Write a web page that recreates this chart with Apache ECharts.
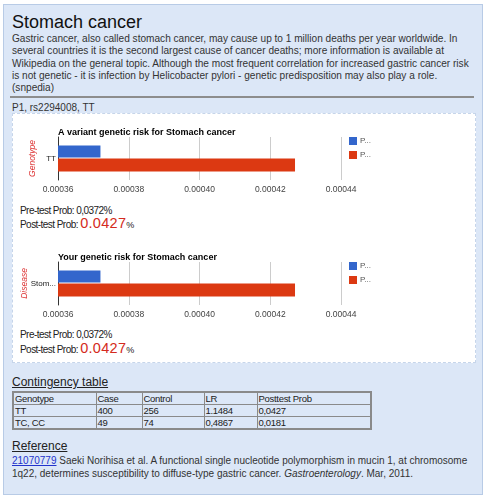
<!DOCTYPE html>
<html>
<head>
<meta charset="utf-8">
<script src="https://cdn.jsdelivr.net/npm/echarts@6/dist/echarts.min.js"></script>
<style>
  html, body { margin:0; padding:0; background:#fff; }
  body { width:487px; height:500px; position:relative; overflow:hidden; font-family:"Liberation Sans", Arial, sans-serif; color:#222; }
  .abs { position:absolute; white-space:nowrap; }
  #outer { left:3px; top:4px; width:478px; height:489px; background:#dce7f7; border:1px solid #b8cbe6; }
  #title { left:12px; top:9px; font-size:18px; line-height:26px; color:#111; }
  #para { left:12px; top:33px; font-size:10.1px; line-height:12.3px; color:#333; }
  #hr { left:10px; top:96px; width:464px; height:2px; background:#8d8d8d; }
  #snp { left:12px; top:102px; font-size:10px; line-height:12px; color:#333; }
  #box { left:12px; top:113px; width:462px; height:248px; background:#fff; border:1px dashed #c6d5ea; }
  .prob { left:20px; font-size:10px; line-height:12px; color:#222; letter-spacing:-0.55px; }
  .big { color:#d42a20; font-size:14.5px; letter-spacing:0.3px; }
  .pct { font-size:9px; }
  .h2 { left:12px; font-size:12px; line-height:14px; text-decoration:underline; color:#222; }
  table { position:absolute; left:12px; top:391px; border-collapse:collapse; table-layout:fixed; width:358px; font-size:9.5px; color:#222; border:2px solid #8a8a8a; letter-spacing:-0.3px; }
  td { border:1px solid #8a8a8a; padding:0 1px; height:11px; line-height:11px; overflow:hidden; white-space:nowrap; }
  #ref { left:12px; top:454px; font-size:10px; line-height:13px; color:#333; }
  #ref a { color:#2233cc; text-decoration:underline; }
  .chart { position:absolute; left:0; width:487px; }
</style>
</head>
<body>
<div id="outer" class="abs"></div>
<div id="title" class="abs">Stomach cancer</div>
<div id="para" class="abs">Gastric cancer, also called stomach cancer, may cause up to 1 million deaths per year worldwide. In<br>several countries it is the second largest cause of cancer deaths; more information is available at<br>Wikipedia on the general topic. Although the most frequent correlation for increased gastric cancer risk<br>is not genetic - it is infection by Helicobacter pylori - genetic predisposition may also play a role.<br>(snpedia)</div>
<div id="hr" class="abs"></div>
<div id="snp" class="abs">P1, rs2294008, TT</div>
<div id="box" class="abs"></div>
<div id="c1" class="chart" style="top:118px;height:80px;"></div>
<div class="abs prob" style="top:205px;">Pre-test Prob: 0,0372%</div>
<div class="abs prob" style="top:215px;line-height:17px;">Post-test Prob: <span class="big">0.0427</span><span class="pct">%</span></div>
<div id="c2" class="chart" style="top:243px;height:80px;"></div>
<div class="abs prob" style="top:329px;">Pre-test Prob: 0,0372%</div>
<div class="abs prob" style="top:340px;line-height:17px;">Post-test Prob: <span class="big">0.0427</span><span class="pct">%</span></div>
<div class="abs h2" style="top:375px;">Contingency table</div>
<table id="tbl"><colgroup id="cols"></colgroup></table>
<div class="abs h2" style="top:439px;">Reference</div>
<div id="ref" class="abs"><a>21070779</a> Saeki Norihisa et al. A functional single nucleotide polymorphism in mucin 1, at chromosome<br>1q22, determines susceptibility to diffuse-type gastric cancer. <i>Gastroenterology</i>. Mar, 2011.</div>

<script>
// ---- data ----
const seriesNames = ['Pre-test Prob', 'Post-test Prob'];
const categories1 = ['TT'];
const categories2 = ['Stomach cancer'];
const preTest = [0.000372];
const postTest = [0.000427];
const xMin = 0.00036;
const xMax = 0.00044;
const xInterval = 0.00002;

const tableHeader = ['Genotype', 'Case', 'Control', 'LR', 'Posttest Prob'];
const tableGenotype = ['TT', 'TC, CC'];
const tableCase = ['400', '49'];
const tableControl = ['256', '74'];
const tableLR = ['1.1484', '0,4867'];
const tablePost = ['0,0427', '0,0181'];

// ---- table ----
const colW = [83, 46, 62, 53, 114];
const tbl = document.getElementById('tbl');
const cols = document.getElementById('cols');
colW.forEach(w => { const c = document.createElement('col'); c.style.width = w + 'px'; cols.appendChild(c); });
function addRow(cells) {
  const tr = document.createElement('tr');
  cells.forEach(c => {
    const td = document.createElement('td');
    td.textContent = c;
    tr.appendChild(td);
  });
  tbl.appendChild(tr);
}
addRow(tableHeader);
tableGenotype.forEach((g, i) => addRow([g, tableCase[i], tableControl[i], tableLR[i], tablePost[i]]));

// ---- charts ----
function makeChart(id, titleText, cats, axisName, nameGap) {
  const chart = echarts.init(document.getElementById(id), null, {renderer: 'canvas'});
  chart.setOption({
    animation: false,
    textStyle: { fontFamily: 'Liberation Sans, Arial, sans-serif' },
    title: {
      text: titleText, left: 53, top: 5,
      textStyle: { fontSize: 9, fontWeight: 'bold', color: '#000' }
    },
    legend: {
      orient: 'vertical', left: 344, top: 14,
      itemWidth: 8, itemHeight: 8, itemGap: 6,
      icon: 'rect',
      formatter: name => name.charAt(0) + '...',
      textStyle: { fontSize: 8, color: '#555', padding: [0, 0, 0, -2] },
      data: seriesNames
    },
    grid: { left: 58, right: 146, top: 19, height: 43, containLabel: false },
    xAxis: {
      type: 'value', min: xMin, max: xMax, interval: xInterval,
      axisLine: { show: false }, axisTick: { show: false },
      splitLine: { lineStyle: { color: '#cccccc', width: 1 } },
      axisLabel: { fontSize: 8.5, color: '#444', margin: 5, formatter: v => v.toFixed(5) }
    },
    yAxis: {
      type: 'category', data: cats, inverse: true,
      axisLine: { show: true, lineStyle: { color: '#333', width: 1 } },
      axisTick: { show: false },
      axisLabel: { fontSize: 8, color: '#222', margin: 2,
        formatter: v => v.length > 5 ? v.slice(0, 4) + '...' : v },
      name: axisName, nameLocation: 'middle', nameGap: nameGap, nameRotate: 90,
      nameMoveOverlap: false,
      nameTextStyle: { color: '#dd3333', fontStyle: 'italic', fontSize: 8.5 }
    },
    series: [
      { name: seriesNames[0], type: 'bar', data: preTest, barWidth: 12, barGap: '8%', itemStyle: { color: '#3366cc' } },
      { name: seriesNames[1], type: 'bar', data: postTest, barWidth: 13, barGap: '8%', itemStyle: { color: '#dc3912' } }
    ]
  });
}
makeChart('c1', 'A variant genetic risk for Stomach cancer', categories1, 'Genotype', 21);
makeChart('c2', 'Your genetic risk for Stomach cancer', categories2, 'Disease', 29);
</script>
</body>
</html>
